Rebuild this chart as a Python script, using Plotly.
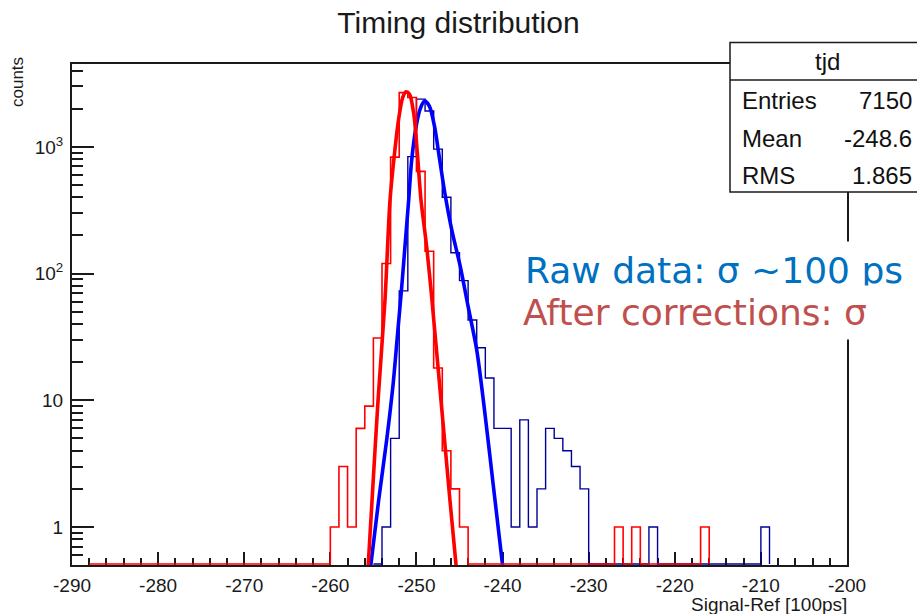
import plotly.graph_objects as go

# ---------------- data ----------------
x_range = [-290, -200]
y_log_range = [-0.30, 3.654]

# "After corrections" histogram (red, thin): left bin edges of non-empty bins and counts
red_bins = [-260, -259, -258, -257, -256, -255, -254, -253, -252, -251, -250, -249,
            -248, -247, -246, -245, -227, -225, -217]
red_counts = [1, 3, 1, 6, 9, 31, 120, 830, 2680, 2450, 640, 150,
              18, 4, 2, 1, 1, 1, 1]
red_hist_range = [-288, -216]

# Raw data histogram "tjd" (dark blue, thin)
blue_bins = [-254, -253, -252, -251, -250, -249, -248, -247, -246, -245, -244, -243,
             -242, -241, -240, -239, -238, -237, -236, -235, -234, -233, -232, -231,
             -223, -210]
blue_counts = [1, 5, 73, 837, 2380, 1920, 960, 400, 146, 88, 43, 26,
               15, 6, 6, 1, 7, 1, 2, 6, 5, 4, 3, 2,
               1, 1]
blue_hist_range = [-255, -209]

# fitted curves (thick)
red_fit_x = [-255.6, -255.16, -254.46, -253.65, -253.07, -252.5, -252.1, -251.6, -251.2,
             -250.8, -250.3, -249.9, -249.47, -248.8, -248.2, -247.15, -246.1, -245.4]
red_fit_y = [0.5, 1.6, 10, 62, 380, 950, 1600, 2450, 2720,
             2600, 1800, 900, 380, 160, 62, 10, 1.6, 0.5]

blue_fit_x = [-255.3, -254.4, -253.45, -252.7, -252.2, -251.7, -251.3, -250.9, -250.55,
              -250.0, -249.5, -249.05, -248.5, -247.9, -247.3, -246.7, -245.9, -244.9,
              -244.0, -243.0, -242.0, -241.1, -240.0]
blue_fit_y = [0.5, 1.6, 4.9, 13.6, 33, 80, 175, 381, 789,
              1500, 2050, 2300, 2100, 1450, 790, 430, 221, 113,
              55, 25, 7.4, 2.2, 0.5]

x_tick_vals = [-290, -280, -270, -260, -250, -240, -230, -220, -210, -200]
x_tick_text = ["-290", "-280", "-270", "-260", "-250", "-240", "-230", "-220", "-210", "-200"]
y_tick_vals = [1, 10, 100, 1000]
y_tick_text = ["1", "10", "10<sup>2</sup>", "10<sup>3</sup>"]

title_text = "Timing distribution"
x_title = "Signal-Ref [100ps]"
y_title = "counts"
stats_name = "tjd"
stats_labels = ["Entries", "Mean", "RMS"]
stats_values = ["7150", "-248.6", "1.865"]
note_raw = "Raw data: σ ~100 ps"
note_corr = "After corrections: σ"

# ---------------- layout geometry ----------------
W, H = 917, 614
ML, MR, MT, MB = 72, 70, 64, 49
PW, PH = W - ML - MR, H - MT - MB


def px(xp):
    return (xp - ML) / PW


def py(yp):
    return (H - MB - yp) / PH


# zero-content bins are drawn on the bottom edge of the frame (lifted ~1px so the line shows)
floor = 10 ** (y_log_range[0] + (y_log_range[1] - y_log_range[0]) / PH)


def outline(bins, counts, rng):
    content = dict(zip(bins, counts))
    xs, ys = [rng[0]], [floor]
    for e in range(rng[0], rng[1]):
        c = content.get(e, 0)
        xs.append(e)
        ys.append(c if c > 0 else floor)
    xs += [rng[1], rng[1]]
    ys += [ys[-1], floor]
    return xs, ys


bx, by = outline(blue_bins, blue_counts, blue_hist_range)
rx, ry = outline(red_bins, red_counts, red_hist_range)

fig = go.Figure()
fig.add_trace(go.Scatter(x=bx, y=by, mode="lines", line=dict(color="#000099", width=1.4, shape="hv"),
                         hoverinfo="skip"))
fig.add_trace(go.Scatter(x=blue_fit_x, y=blue_fit_y, mode="lines",
                         line=dict(color="#0000FF", width=3.6, shape="spline", smoothing=0.8),
                         hoverinfo="skip"))
fig.add_trace(go.Scatter(x=rx, y=ry, mode="lines", line=dict(color="#FF0000", width=1.6, shape="hv"),
                         hoverinfo="skip"))
fig.add_trace(go.Scatter(x=red_fit_x, y=red_fit_y, mode="lines",
                         line=dict(color="#FF0000", width=3.6, shape="spline", smoothing=0.8),
                         hoverinfo="skip"))

minor_y = [m * 10 ** k for k in range(-1, 4) for m in range(2, 10)]
minor_y = [v for v in minor_y if 10 ** y_log_range[0] < v < 10 ** y_log_range[1]]

axis_font = dict(family="Liberation Sans, Arial, sans-serif", size=19, color="#1a1a1a")

fig.update_layout(
    width=W, height=H,
    margin=dict(l=ML, r=MR, t=MT, b=MB),
    paper_bgcolor="white", plot_bgcolor="white",
    showlegend=False,
    title=dict(text=title_text, x=0.5, xref="container", xanchor="center",
               y=1 - 22 / H, yref="container", yanchor="middle",
               font=dict(family="Liberation Sans, Arial, sans-serif", size=30, color="#1a1a1a")),
    xaxis=dict(range=x_range, showline=True, linecolor="#1a1a1a", linewidth=2, mirror=True,
               ticks="inside", ticklen=13, tickwidth=1.5, tickcolor="#1a1a1a",
               tickvals=x_tick_vals, ticktext=x_tick_text, tickfont=axis_font,
               showgrid=False, zeroline=False,
               layer="below traces", ticklabelstandoff=2,
               minor=dict(ticks="inside", ticklen=7, dtick=2, tick0=-290, tickwidth=1.5,
                          tickcolor="#1a1a1a", showgrid=False)),
    yaxis=dict(type="log", range=y_log_range, showline=True, linecolor="#1a1a1a", linewidth=2,
               mirror=True, ticks="inside", ticklen=22, tickwidth=1.5, tickcolor="#1a1a1a",
               tickvals=y_tick_vals, ticktext=y_tick_text,
               tickfont=dict(family="Liberation Sans, Arial, sans-serif", size=19, color="#1a1a1a"),
               showgrid=False, zeroline=False, layer="below traces", ticklabelstandoff=3,
               minor=dict(ticks="inside", ticklen=11, tickvals=minor_y, tickwidth=1.5,
                          tickcolor="#1a1a1a", showgrid=False)),
)

# stats box
fig.add_shape(type="rect", xref="paper", yref="paper", x0=px(730), x1=px(930), y0=py(192), y1=py(42.5),
              fillcolor="white", line=dict(color="#1a1a1a", width=1.5), layer="above")
fig.add_shape(type="line", xref="paper", yref="paper", x0=px(730), x1=px(930), y0=py(80), y1=py(80),
              line=dict(color="#1a1a1a", width=1.5), layer="above")

ann_font = dict(family="Liberation Sans, Arial, sans-serif", size=24, color="#111111")
anns = [
    dict(text=stats_name, x=px(827), y=py(61), xanchor="center", yanchor="middle", font=ann_font),
]
for i, (lab, val) in enumerate(zip(stats_labels, stats_values)):
    yy = py(101 + i * 37)
    anns.append(dict(text=lab, x=px(740), y=yy, xanchor="left", yanchor="middle", font=ann_font))
    anns.append(dict(text=val, x=px(914), y=yy, xanchor="right", yanchor="middle", font=ann_font))

anns.append(dict(text=x_title, x=px(849), y=py(604), xanchor="right", yanchor="middle",
                 font=dict(family="Liberation Sans, Arial, sans-serif", size=19, color="#1a1a1a")))
anns.append(dict(text=y_title, x=px(18), y=py(82), xanchor="center", yanchor="middle", textangle=-90,
                 font=dict(family="Liberation Sans, Arial, sans-serif", size=17, color="#1a1a1a")))

note_font = "Tahoma, DejaVu Sans, sans-serif"
anns.append(dict(text=note_raw, x=px(516), y=py(270), xanchor="left", yanchor="middle",
                 bgcolor="white", borderpad=8,
                 font=dict(family=note_font, size=36, color="#0070C0")))
anns.append(dict(text=note_corr, x=px(516), y=py(312), xanchor="left", yanchor="middle",
                 bgcolor="white", borderpad=6,
                 font=dict(family=note_font, size=36, color="#C0504D")))

for a in anns:
    a.setdefault("xref", "paper")
    a.setdefault("yref", "paper")
    a.setdefault("showarrow", False)
fig.update_layout(annotations=anns)

fig.write_html("out.html")
